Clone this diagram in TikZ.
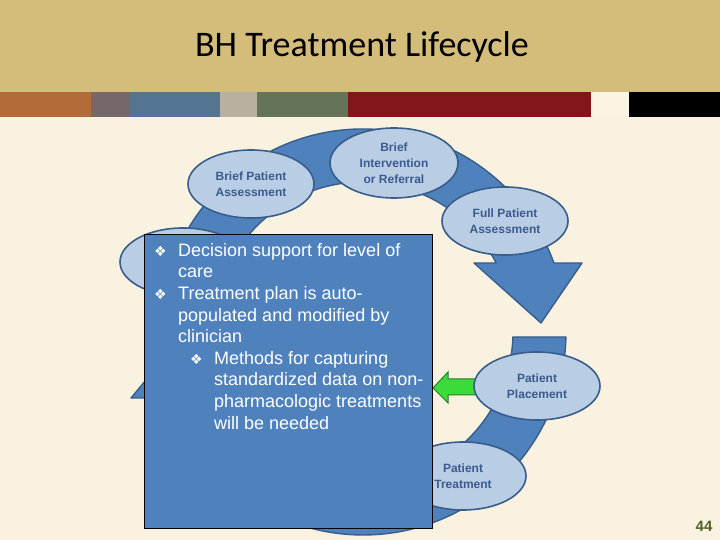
\documentclass[tikz,border=0pt]{standalone}
\usepackage{fontspec}
\setmainfont{Liberation Sans}
\newfontfamily\titlefont{Carlito}
\newfontfamily\symfont{DejaVu Sans}
\usetikzlibrary{shapes.geometric}
\definecolor{bg}{HTML}{FAF2E0}
\definecolor{titlebg}{HTML}{D4BC7A}
\definecolor{s1}{HTML}{B46B3A}
\definecolor{s2}{HTML}{76686A}
\definecolor{s3}{HTML}{537592}
\definecolor{s4}{HTML}{BAB0A0}
\definecolor{s5}{HTML}{657358}
\definecolor{s6}{HTML}{83161A}
\definecolor{s7}{HTML}{FBF4E4}
\definecolor{bandfill}{HTML}{4F81BD}
\definecolor{bandline}{HTML}{385D8A}
\definecolor{ellfill}{HTML}{B9CDE5}
\definecolor{elltext}{HTML}{3B5B8C}
\definecolor{gfill}{HTML}{3BDB3B}
\definecolor{gline}{HTML}{2A7A2A}
\definecolor{pgnum}{HTML}{4F6228}
\newcommand{\bul}{\makebox[24pt][l]{\symfont\fontsize{14}{14}\selectfont ❖}}
\tikzset{
  band/.style={fill=bandfill, draw=bandline, line width=1.4pt, line join=round},
  ell/.style={ellipse, fill=ellfill, draw=bandline, line width=1.6pt, minimum width=126pt, minimum height=68pt, inner sep=0pt, align=center, text=elltext, font=\bfseries\fontsize{12}{16}\selectfont},
  infobox/.style={fill=bandfill, draw=black, line width=1pt, minimum width=288pt, minimum height=294pt, inner sep=0pt},
  greenarrow/.style={fill=gfill, draw=gline, line width=1pt, line join=miter}
}
\begin{document}
\begin{tikzpicture}[x=1pt,y=1pt]
\useasboundingbox (0,0) rectangle (720,540);
\fill[bg] (0,0) rectangle (720,540);
\fill[titlebg] (0,448) rectangle (720,540);
\fill[s1] (0,423) rectangle (91,448);
\fill[s2] (91,423) rectangle (129.5,448);
\fill[s3] (129.5,423) rectangle (220,448);
\fill[s4] (220,423) rectangle (257,448);
\fill[s5] (257,423) rectangle (348,448);
\fill[s6] (348,423) rectangle (591,448);
\fill[s7] (591,423) rectangle (629,448);
\fill[black] (629,423) rectangle (720,448);
\node[font=\titlefont\fontsize{36}{40}\selectfont, anchor=base] (title) at (362,483) {BH Treatment Lifecycle};

\begin{scope}[shift={(363,208)}]
\draw[band] (168:203) arc[start angle=168,end angle=19.87,radius=203] -- (219,69) -- (178,9) -- (111,69) -- (27.39:150) arc[start angle=27.39,end angle=168,radius=150] -- cycle;
\draw[band] (-1.41:203) arc[start angle=-1.41,end angle=-161.03,radius=203] -- (-232,-66) -- (-182,-6) -- (-116,-66) -- (-153.9:150) arc[start angle=-153.9,end angle=-1.91,radius=150] -- cycle;
\end{scope}

\coordinate (gtip) at (433,152);
\draw[greenarrow] (478,161) -- (448,161) -- (448,168) -- (gtip) -- (448,137) -- (448,145) -- (478,145) -- cycle;

\node[ell] (left) at (183,278) {};
\node[ell] (bpa) at (251,356) {Brief Patient\\Assessment};
\node[ell, minimum width=128pt, minimum height=70pt] (bir) at (394,377) {Brief\\Intervention\\or Referral};
\node[ell] (fpa) at (505,319) {Full Patient\\Assessment};
\node[ell] (pp) at (537,154) {Patient\\Placement};
\node[ell] (pt) at (463,64) {Patient\\Treatment};

\node[infobox, anchor=north west] (box) at (144,306) {};
\node[anchor=north west, inner sep=0pt, align=left, text=white, font=\fontsize{18}{21.6}\selectfont] (txt) at (154,297) {%
\bul Decision support for level of\\
\hspace*{24pt}care\\
\bul Treatment plan is auto-\\
\hspace*{24pt}populated and modified by\\
\hspace*{24pt}clinician\\
\hspace*{36pt}\bul Methods for capturing\\
\hspace*{60pt}standardized data on non-\\
\hspace*{60pt}pharmacologic treatments\\
\hspace*{60pt}will be needed};

\node[font=\bfseries\fontsize{15}{15}\selectfont, text=pgnum] (pg) at (704,14) {44};
\end{tikzpicture}
\end{document}
